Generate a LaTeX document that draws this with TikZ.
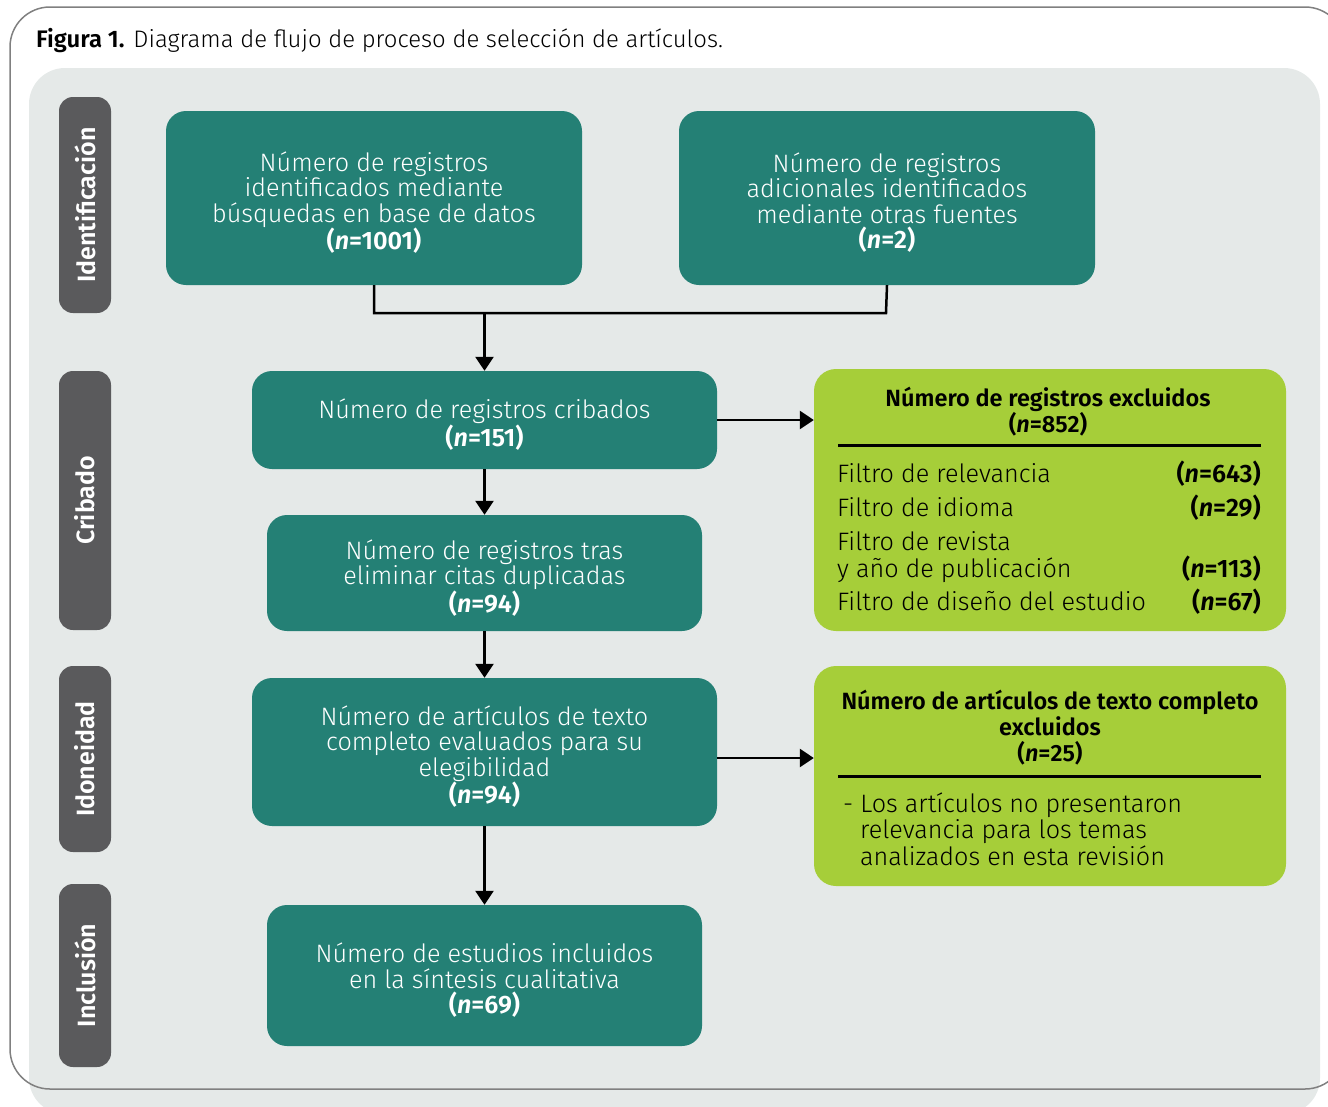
\documentclass[tikz,border=0pt]{standalone}
\usepackage{fontspec}
\setmainfont{Fira Sans}[UprightFont=* Light, ItalicFont=* Light Italic, BoldFont=* SemiBold, BoldItalicFont=* SemiBold Italic]
\usetikzlibrary{arrows.meta}

\definecolor{teal1}{RGB}{36,128,117}
\definecolor{lime1}{RGB}{166,206,57}
\definecolor{panel}{RGB}{229,233,232}
\definecolor{sidegray}{RGB}{90,90,92}
\definecolor{framegray}{RGB}{128,128,128}

\newcommand{\nn}[1]{\textbf{(\textit{n}=#1)}}

\begin{document}
\begin{tikzpicture}[x=1pt,y=-1pt,
  tealbox/.style={fill=teal1, rounded corners=20pt, inner sep=0pt},
  tealtxt/.style={text=white, align=center, inner sep=0pt,
    font=\fontsize{25.2}{25.5}\selectfont},
  limebox/.style={fill=lime1, rounded corners=22pt, inner sep=0pt, minimum width=472pt},
  sidelabel/.style={fill=sidegray, rounded corners=14pt, text=white, rotate=90, inner sep=0pt,
    minimum height=52pt, font=\fontsize{25}{26}\selectfont\bfseries},
  headtxt/.style={align=center, inner sep=0pt, font=\fontsize{23.5}{26}\selectfont\bfseries},
  bodytxt/.style={inner sep=0pt, font=\fontsize{25.2}{26}\selectfont},
  arr/.style={line width=2.5pt, -{Triangle[length=14pt,width=18pt]}},
  conn/.style={line width=2.5pt},
  rulel/.style={line width=3pt}
]
\useasboundingbox (0,0) rectangle (1328,1106);

% panel and frame
\fill[panel, rounded corners=36pt] (29,68) rectangle (1320,1114);
\draw[framegray, line width=1.5pt, rounded corners=40pt] (10,7) rectangle (1345,1089);

% title
\node[anchor=base west, inner sep=0pt, font=\fontsize{23.9}{24}\selectfont] (title) at (36,47)
  {\textbf{Figura 1.} Diagrama de flujo de proceso de selección de artículos.};

% side labels
\node[sidelabel, minimum width=216pt] (s1) at (85,205) {Identificación};
\node[sidelabel, minimum width=259pt] (s2) at (85,500.5) {Cribado};
\node[sidelabel, minimum width=186pt] (s3) at (85,759) {Idoneidad};
\node[sidelabel, minimum width=183pt] (s4) at (85,975.5) {Inclusión};

% teal boxes
\node[tealbox, minimum width=416pt, minimum height=174pt] (b1) at (374,198) {};
\node[tealbox, minimum width=416pt, minimum height=174pt] (b2) at (887,198) {};
\node[tealbox, minimum width=465pt, minimum height=98pt] (b3) at (484.5,420) {};
\node[tealbox, minimum width=435pt, minimum height=116pt] (b4) at (484.5,573) {};
\node[tealbox, minimum width=465pt, minimum height=148pt] (b5) at (484.5,752) {};
\node[tealbox, minimum width=435pt, minimum height=141pt] (b6) at (484.5,975.5) {};

\node[tealtxt] (t1) at ([yshift=-4.5pt]b1.center)
  {Número de registros\\identificados mediante\\búsquedas en base de datos\\\nn{1001}};
\node[tealtxt] (t2) at ([yshift=-4.5pt]b2.center)
  {Número de registros\\adicionales identificados\\mediante otras fuentes\\\nn{2}};
\node[tealtxt] (t3) at ([yshift=-4.5pt]b3.center)
  {Número de registros cribados\\\nn{151}};
\node[tealtxt] (t4) at ([yshift=-5pt]b4.center)
  {Número de registros tras\\eliminar citas duplicadas\\\nn{94}};
\node[tealtxt] (t5) at ([yshift=-4.5pt]b5.center)
  {Número de artículos de texto\\completo evaluados para su\\elegibilidad\\\nn{94}};
\node[tealtxt] (t6) at ([yshift=-5pt]b6.center)
  {Número de estudios incluidos\\en la síntesis cualitativa\\\nn{69}};

% lime boxes
\node[limebox, minimum height=262pt] (g1) at (1050,500) {};
\node[limebox, minimum height=220pt] (g2) at (1050,776) {};

% g1 content
\node[headtxt] (g1h) at (1048,412) {Número de registros excluidos\\(\textit{n}=852)};
\coordinate (g1l) at (838,445);
\coordinate (g1r) at (1261,445);
\draw[rulel] (g1l) -- (g1r);
\node[bodytxt, anchor=base west] (f1) at (837,482) {Filtro de relevancia};
\node[bodytxt, anchor=base east] (f1n) at (1261,482) {\nn{643}};
\node[bodytxt, anchor=base west] (f2) at (837,516) {Filtro de idioma};
\node[bodytxt, anchor=base east] (f2n) at (1261,516) {\nn{29}};
\node[bodytxt, anchor=base west] (f3) at (837,550) {Filtro de revista};
\node[bodytxt, anchor=base west] (f3b) at (837,577) {y año de publicación};
\node[bodytxt, anchor=base east] (f3n) at (1261,577) {\nn{113}};
\node[bodytxt, anchor=base west] (f4) at (837,610) {Filtro de diseño del estudio};
\node[bodytxt, anchor=base east] (f4n) at (1261,610) {\nn{67}};

% g2 content
\node[headtxt] (g2h) at (1050,728) {Número de artículos de texto completo\\excluidos\\(\textit{n}=25)};
\coordinate (g2l) at (838,776);
\coordinate (g2r) at (1261,776);
\draw[rulel] (g2l) -- (g2r);
\node[bodytxt, anchor=base west] (e1) at (843,812) {- Los artículos no presentaron};
\node[bodytxt, anchor=base west] (e2) at (860,838) {relevancia para los temas};
\node[bodytxt, anchor=base west] (e3) at (860,865) {analizados en esta revisión};

% connectors
\coordinate (j1) at (374,313);
\coordinate (j2) at (886,313);
\coordinate (jm) at (484.5,313);
\draw[conn] (b1.south) -- (j1) -- (j2) -- (b2.south);
\draw[arr] (jm) -- (b3.north);
\draw[arr] (b3.east) -- (g1.west |- b3.east);
\draw[arr] (b3.south) -- (b4.north);
\draw[arr] (b4.south) -- (b5.north);
\draw[arr] (b5.east |- 0,758) -- (g2.west |- 0,758);
\draw[arr] (b5.south) -- (b6.north);
\end{tikzpicture}
\end{document}
